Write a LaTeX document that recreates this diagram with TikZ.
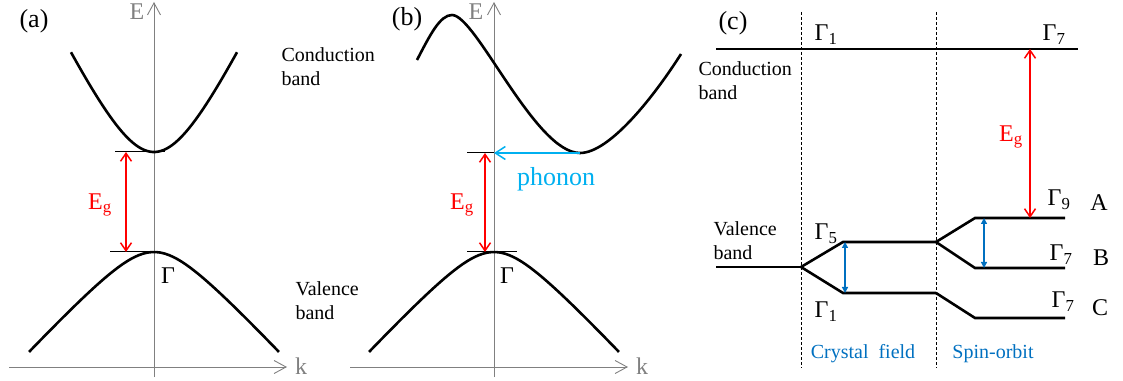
\documentclass[tikz,border=0pt]{standalone}
\usepackage{fontspec}
\setmainfont{Liberation Serif}
\usetikzlibrary{arrows.meta}
\definecolor{phononcyan}{HTML}{00B0F0}
\definecolor{splitblue}{HTML}{0070C0}
\tikzset{
  band/.style={line width=2.6pt},
  level/.style={line width=1pt},
  axis/.style={draw=gray, line width=0.9pt, -{Straight Barb[length=12pt,width=13pt]}},
  gap/.style={red, line width=1.5pt, {Straight Barb[length=8pt,width=11pt]}-{Straight Barb[length=8pt,width=11pt]}},
  phonon/.style={phononcyan, line width=1.5pt, -{Straight Barb[length=10pt,width=13pt]}},
  split/.style={splitblue, line width=1.3pt, {Triangle[length=6pt,width=6pt]}-{Triangle[length=6pt,width=6pt]}},
  divider/.style={line width=0.8pt, dash pattern=on 3pt off 2pt},
  lbl/.style={font=\fontsize{20}{24}\selectfont, align=left},
  sym/.style={font=\fontsize{24}{28}\selectfont},
  panel/.style={font=\fontsize{26}{30}\selectfont},
}

\begin{document}
\begin{tikzpicture}[x=1pt, y=1pt]
    \useasboundingbox (0,0) rectangle (1123,380);

    % (a) direct gap
    \node[panel] (pa) at (34,359) {(a)};
    \draw[axis] (9,13) -- (287,13);
    \draw[axis] (154,3) -- (154,378);
    \node[sym, gray] (Ea) at (137,368) {E};
    \node[sym, gray] (ka) at (301,14) {k};
    \coordinate (CBa) at (154,228);
    \coordinate (VBa) at (154,128);
    \draw[band] plot[domain=-83:83, samples=60] ({154+\x},{228+100*(sqrt(1+(\x/48)^2)-1)});
    \draw[band] plot[domain=-125:125, samples=60] ({154+\x},{128-41*(sqrt(1+(\x/38)^2)-1)});
    \draw[level] (115,228) -- (165,228);
    \draw[level] (110,128) -- (VBa);
    \draw[gap] (126,228) -- (126,128);
    \node[sym, red] (Ega) at (100,175) {E\textsubscript{g}};
    \node[sym] (Ga) at (168,104) {Γ};
    \node[lbl, anchor=west] (cba) at (278,313) {Conduction\\band};
    \node[lbl, anchor=west] (vba) at (292,79) {Valence\\band};

    % (b) indirect gap
    \node[panel] (pb) at (407,361) {(b)};
    \draw[axis] (350,13) -- (628,13);
    \draw[axis] (494,3) -- (494,378);
    \node[sym, gray] (Eb) at (476,368) {E};
    \node[sym, gray] (kb) at (642,14) {k};
    \coordinate (CBb) at (580,227);
    \coordinate (Kb) at (494,227);
    \coordinate (VBb) at (494,128);
    \draw[band] (417,320) .. controls (430,345) and (440,365) .. (452,365)
        .. controls (476,365) and (535,227) .. (CBb)
        .. controls (610,227) and (655,285) .. (681,326);
    \draw[band] plot[domain=-125:125, samples=60] ({494+\x},{128-41*(sqrt(1+(\x/38)^2)-1)});
    \draw[level] (467,227) -- (Kb);
    \draw[level] (467,128) -- (517,128);
    \draw[phonon] (CBb) -- (Kb);
    \node[panel, phononcyan] (ph) at (556,201) {phonon};
    \draw[gap] (485,227) -- (485,128);
    \node[sym, red] (Egb) at (462,175) {E\textsubscript{g}};
    \node[sym] (Gb) at (507,104) {Γ};

    % (c) level splitting
    \node[panel] (pc) at (733,357) {(c)};
    \draw[divider] (801,368) -- (801,12);
    \draw[divider] (936,368) -- (936,12);
    \coordinate (V0) at (801,113);
    \coordinate (G5) at (936,138);
    \coordinate (G1) at (936,87);
    \draw[band] (716,331) -- (1078,331);
    \draw[band] (716,113) -- (V0);
    \draw[band] (V0) -- (843,138) -- (G5);
    \draw[band] (V0) -- (843,87) -- (G1);
    \draw[band] (G5) -- (975,162) -- (1065,162);
    \draw[band] (G5) -- (975,112) -- (1065,112);
    \draw[band] (G1) -- (975,62) -- (1065,62);
    \draw[split] (845,138) -- (845,87);
    \draw[split] (984,162) -- (984,112);
    \draw[gap] (1030,331) -- (1030,162);
    \node[sym, red] (Egc) at (1011,243) {E\textsubscript{g}};
    \node[lbl, anchor=west] (cbc) at (695,299) {Conduction\\band};
    \node[lbl, anchor=west] (vbc) at (710,139) {Valence\\band};
    \node[sym] (c1) at (826,345) {Γ\textsubscript{1}};
    \node[sym] (c7) at (1054,345) {Γ\textsubscript{7}};
    \node[sym] (l5) at (826,146) {Γ\textsubscript{5}};
    \node[sym] (l1) at (826,68) {Γ\textsubscript{1}};
    \node[sym] (l9) at (1059,180) {Γ\textsubscript{9}};
    \node[sym] (l7b) at (1061,125) {Γ\textsubscript{7}};
    \node[sym] (l7c) at (1063,78) {Γ\textsubscript{7}};
    \node[sym] (A) at (1099,177) {A};
    \node[sym] (B) at (1101,122) {B};
    \node[sym] (C) at (1100,72) {C};
    \node[lbl, splitblue] (cf) at (863,26) {Crystal~ field};
    \node[lbl, splitblue] (so) at (993,26) {Spin-orbit};
\end{tikzpicture}
\end{document}
